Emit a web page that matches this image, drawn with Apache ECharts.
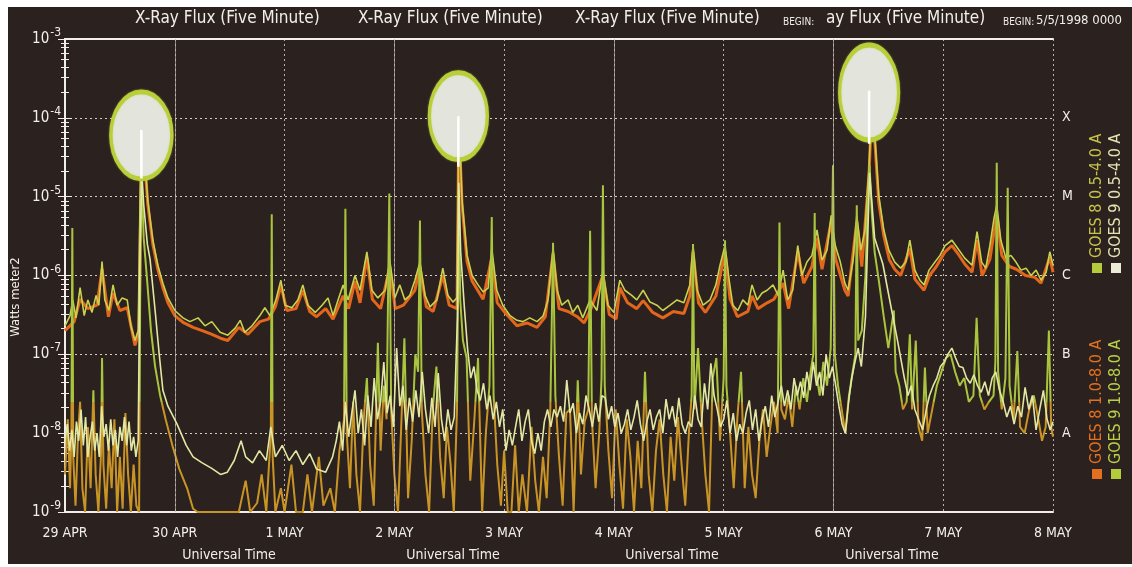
<!DOCTYPE html>
<html>
<head>
<meta charset="utf-8">
<script src="https://cdn.jsdelivr.net/npm/echarts@6/dist/echarts.min.js"></script>
<style>
  html, body { margin: 0; padding: 0; background: #fff; }
  #frame { position: absolute; left: 8px; top: 7px; width: 1124px; height: 557px; background: #2b211e; }
  #chart { position: absolute; left: 0; top: 0; width: 1132px; height: 567px; }
</style>
</head>
<body>
<div id="frame"></div>
<div id="chart"></div>
<script>
// hours since 29 Apr 1998 00:00 UT, flux in W m-2
const dayLabels = ['29 APR', '30 APR', '1 MAY', '2 MAY', '3 MAY', '4 MAY', '5 MAY', '6 MAY', '7 MAY', '8 MAY']
const classLabels = { '-4': 'X', '-5': 'M', '-6': 'C', '-7': 'B', '-8': 'A' }
const solidGridHours = [24, 72, 120, 168]

// GOES 8 1.0-8.0 A
const goes8Long = [[0,2e-7],[2,2.6e-7],[3.3,5e-7],[5,3.8e-7],[7,4.2e-7],[8.1,1.2e-6],[9.5,3e-7],[10.5,6e-7],[12,3.6e-7],[13.6,3.9e-7],[15.3,1.3e-7],[16.2,2e-7],[16.8,9e-5],[17.3,3.5e-5],[18.1,8e-6],[19.2,2.5e-6],[20.3,1.2e-6],[21.4,7e-7],[22.5,4.5e-7],[24,3.1e-7],[26,2.5e-7],[28,2.2e-7],[30,2e-7],[32,1.8e-7],[34,1.6e-7],[35.6,1.5e-7],[38,2.2e-7],[40,1.8e-7],[42.6,2.6e-7],[44.5,2.8e-7],[46,4e-7],[47.2,7.5e-7],[48.5,3.6e-7],[50.5,3.8e-7],[52,6.5e-7],[53.5,3.5e-7],[55,3e-7],[57,3.8e-7],[58.6,2.8e-7],[60.8,5.5e-7],[62,3.8e-7],[63.4,8.5e-7],[64.5,4.5e-7],[66,1.7e-6],[67.2,5e-7],[69,3.8e-7],[71,1.3e-6],[72.2,3.8e-7],[74,4.2e-7],[76.5,6.5e-7],[77.6,1.3e-6],[79,4e-7],[80.5,3.5e-7],[82.6,1e-6],[84,4.2e-7],[85.7,3.8e-7],[86.1,9e-5],[86.8,8e-6],[87.9,1.5e-6],[89,8.5e-7],[91.4,5e-7],[93.3,1.7e-6],[94.5,4.5e-7],[96,3.5e-7],[98.8,2.3e-7],[101,2.5e-7],[103.2,2.2e-7],[105,3e-7],[106.7,1.9e-6],[108,3.8e-7],[110,3.5e-7],[112,3e-7],[113.5,2.5e-7],[115,3.8e-7],[117.6,1e-6],[119,3.2e-7],[120.5,2.8e-7],[121.3,7e-7],[123,4.5e-7],[125,3.8e-7],[126.4,4.8e-7],[128.5,3.4e-7],[130.7,2.9e-7],[133,3.5e-7],[135.3,3.3e-7],[136.6,5.5e-7],[137.3,2e-6],[138.5,4.5e-7],[140,3.4e-7],[142.3,5.5e-7],[144.3,2e-6],[145.4,5e-7],[147,3e-7],[149.3,3.5e-7],[150.2,5.5e-7],[151.5,3.8e-7],[153.5,4.5e-7],[155,5e-7],[157,8e-7],[158.2,3.8e-7],[160.2,2e-6],[161.5,8e-7],[163.3,1.3e-6],[164.4,3e-6],[165.5,1.2e-6],[167.5,4.8e-6],[168.5,1.6e-6],[170.5,6.5e-7],[171.2,5.5e-7],[173.1,4.8e-6],[174.2,1.3e-6],[175.8,2e-5],[176.4,1.5e-4],[177.1,4.5e-5],[177.9,8.5e-6],[179,3.2e-6],[180.2,1.6e-6],[181.4,1.2e-6],[182.7,1e-6],[184.7,2.2e-6],[185.8,9e-7],[187.8,6.5e-7],[189,1e-6],[190.5,1.3e-6],[192.4,2e-6],[193.9,2.4e-6],[195.2,1.9e-6],[196.7,1.4e-6],[198.3,1.1e-6],[199.4,2.8e-6],[200.5,1e-6],[202.2,1.6e-6],[203.7,6e-6],[204.8,1.8e-6],[206.5,1.3e-6],[208,1.2e-6],[210,1e-6],[212,9.5e-7],[213.4,8e-7],[215.3,1.7e-6],[216,1.1e-6]]

// GOES 9 1.0-8.0 A
const goes9Long = [[0,2.3e-7],[1.1,3.1e-7],[1.7,4.9e-7],[2.4,2.9e-7],[3.3,7e-7],[4.2,3.1e-7],[5,4.9e-7],[5.9,3.4e-7],[6.8,5.6e-7],[7.4,4.2e-7],[8.1,1.5e-6],[8.7,4.9e-7],[9.6,3.6e-7],[10.5,7.6e-7],[11.4,4.2e-7],[12.5,5.2e-7],[13.6,4.9e-7],[14.4,2.3e-7],[15.3,1.5e-7],[16,2e-7],[16.4,9e-6],[16.8,1e-4],[17.3,3.9e-5],[18.1,9e-6],[19.2,2.8e-6],[20.3,1.35e-6],[21.4,8e-7],[22.5,5.2e-7],[24,3.6e-7],[25.8,2.9e-7],[27.3,2.6e-7],[29.1,2.9e-7],[30.6,2.3e-7],[32.1,2.6e-7],[33.9,1.9e-7],[35.6,1.75e-7],[37.2,2.15e-7],[38.3,2.7e-7],[39.3,1.9e-7],[40.9,2.3e-7],[42.6,3.1e-7],[43.7,3.9e-7],[44.8,3.1e-7],[46.1,4.9e-7],[47.2,8.7e-7],[48.1,4.2e-7],[49.6,3.9e-7],[50.9,4.9e-7],[52,7.6e-7],[53.1,4.2e-7],[54.7,3.4e-7],[56.2,4.2e-7],[57.5,5.2e-7],[58.6,3.1e-7],[59.7,4.9e-7],[60.8,7.6e-7],[61.9,4.9e-7],[63.4,1e-6],[64.5,6.5e-7],[66,2e-6],[67.1,6.5e-7],[68.4,5.2e-7],[70,6.5e-7],[71,1.57e-6],[72.1,5.2e-7],[73.2,7.6e-7],[74.3,4.9e-7],[75.4,5.6e-7],[76.5,8.7e-7],[77.6,1.48e-6],[78.7,5.6e-7],[79.8,4e-7],[81.3,4.9e-7],[82.6,1.24e-6],[83.7,5.6e-7],[84.8,4.6e-7],[85.7,5.2e-7],[86.1,1.1e-4],[86.8,9e-6],[87.9,1.8e-6],[89,1e-6],[90.3,7.6e-7],[91.4,6.2e-7],[92.5,6.9e-7],[93.3,2.2e-6],[94.4,6.5e-7],[95.7,4.2e-7],[97.3,3.1e-7],[98.8,2.7e-7],[100.1,2.6e-7],[101.6,2.9e-7],[103.2,2.6e-7],[104.5,3.05e-7],[105.6,4.9e-7],[106.7,2.2e-6],[107.6,6.5e-7],[108.6,4.2e-7],[110,4.9e-7],[111,3.4e-7],[112.1,4.2e-7],[113.2,2.9e-7],[114.8,4.9e-7],[116.3,3.6e-7],[117.6,1.17e-6],[118.7,4.2e-7],[120,3.4e-7],[121.3,8.7e-7],[122.4,6.5e-7],[123.9,5.6e-7],[125,4.9e-7],[126.4,6.5e-7],[127.9,4.6e-7],[129.4,4.2e-7],[130.7,3.6e-7],[132.3,4.2e-7],[133.8,4.9e-7],[135.3,4.5e-7],[136.6,7.6e-7],[137.3,2.4e-6],[138.2,6.5e-7],[139.5,4.2e-7],[141,4.9e-7],[142.3,7.6e-7],[143.2,1.35e-6],[144.3,2.4e-6],[145.2,8.7e-7],[146,4.2e-7],[147.1,3.6e-7],[148.2,4.9e-7],[149.3,4.2e-7],[150.2,7.6e-7],[151.3,4.9e-7],[152.4,6e-7],[153.5,6.5e-7],[154.8,7.6e-7],[155.9,5.6e-7],[157,1.17e-6],[158,4.9e-7],[159.1,6.5e-7],[160.2,2.4e-6],[161.1,1e-6],[162.2,1.48e-6],[163.3,1.8e-6],[164.4,3.8e-6],[165.5,1.57e-6],[166.6,2.1e-6],[167.5,5.8e-6],[168.4,2.4e-6],[169.5,1.48e-6],[170.5,8e-7],[171.2,6.5e-7],[172.3,1.57e-6],[173.1,5.8e-6],[174,2.1e-6],[174.9,3.8e-6],[175.8,2.5e-5],[176.4,1.68e-4],[177.1,5.2e-5],[177.9,1.05e-5],[179,3.8e-6],[180.1,2.1e-6],[181.4,1.48e-6],[182.7,1.24e-6],[183.8,1.48e-6],[184.7,2.8e-6],[185.8,1.17e-6],[186.9,8.7e-7],[187.8,7.6e-7],[188.9,1.17e-6],[190.2,1.48e-6],[191.3,1.8e-6],[192.4,2.4e-6],[193.9,2.8e-6],[195.2,2.2e-6],[196.7,1.66e-6],[198.3,1.35e-6],[199.4,3.6e-6],[200.4,1.48e-6],[201.3,1.24e-6],[202.2,2.4e-6],[203.1,5.3e-6],[203.7,7.8e-6],[204.6,2.8e-6],[205.7,1.66e-6],[206.8,1.8e-6],[207.9,1.48e-6],[209,1.17e-6],[210.1,1.24e-6],[211.2,1e-6],[212.3,1.17e-6],[213.4,8.7e-7],[214.5,1.1e-6],[215.3,2e-6],[216,1.35e-6]]

// GOES 8 0.5-4.0 A
const goes8Short = [[0,3e-9],[0.6,1.5e-8],[1.1,2e-9],[1.4,1e-8],[1.6,4e-6],[1.8,5e-9],[2.3,1.2e-9],[2.8,8e-9],[3.3,2.5e-8],[3.8,2e-9],[4.4,1e-9],[5,1.2e-8],[5.6,2e-9],[6.2,3.5e-8],[6.7,3e-9],[7.3,1e-9],[7.9,6e-9],[8.1,9e-8],[8.4,4e-9],[9,1.1e-9],[9.6,7e-9],[10.2,2e-9],[10.8,1.5e-8],[11.4,1e-9],[12,5e-9],[12.6,1.1e-9],[13.2,1.8e-8],[13.8,3e-9],[14.4,1e-9],[15,4e-9],[15.6,1.2e-9],[16.2,1e-9],[16.5,3e-6],[16.8,1.5e-5],[17.2,3e-6],[18,8e-7],[18.8,2e-7],[19.7,7e-8],[20.8,3e-8],[22,1.5e-8],[23.6,6.6e-9],[25,3.5e-9],[26.7,2e-9],[28,1.1e-9],[29,1e-9],[38,1e-9],[39.5,2.5e-9],[40.5,1e-9],[42,1.3e-9],[43,3e-9],[44,1e-9],[45,1e-8],[45.2,6e-6],[45.4,5e-9],[46,1e-9],[47.2,2e-9],[48,1e-9],[49.5,4e-9],[50.5,1e-9],[52,1e-9],[53,3e-9],[54,1e-9],[55.5,5e-9],[56.5,1.2e-9],[58,2e-9],[59,1e-9],[60,6e-9],[61,1.5e-8],[61.3,7e-6],[61.6,1e-8],[62.3,2e-9],[63,2.5e-8],[63.7,3e-9],[64.5,1e-9],[65.3,1.5e-8],[66,5e-8],[66.7,4e-9],[67.5,1.2e-9],[68.4,1.4e-7],[69,6e-9],[69.7,4e-8],[70.3,1.5e-8],[70.9,1.1e-5],[71.3,2e-8],[72,3e-9],[72.8,1e-9],[73.5,1.2e-8],[74.2,1.6e-7],[75,1.5e-9],[75.8,8e-9],[76.6,1e-7],[77.2,6e-8],[77.6,5e-6],[78,2e-8],[78.8,3e-9],[79.6,1e-9],[80.4,2e-8],[81.2,7e-8],[82,5e-9],[82.8,1.5e-9],[83.5,1.2e-8],[84.3,4e-9],[85,1e-9],[85.7,2e-8],[86,3e-6],[86.1,1.2e-5],[86.4,5e-7],[87,1.5e-7],[87.8,9e-8],[88.6,2.5e-9],[89.5,1.5e-8],[90.3,9e-8],[91.2,1e-9],[92,1e-8],[92.8,4e-8],[93.3,5.5e-6],[93.7,3e-8],[94.5,4e-9],[95.3,1.2e-9],[96,6e-9],[96.8,1e-9],[97.6,1e-9],[98.4,7e-9],[99.2,1e-9],[100,3e-9],[101,1e-9],[102,1.2e-8],[102.8,2.5e-9],[103.6,1e-9],[104.5,5e-9],[105.3,1.5e-9],[106.1,2e-8],[106.7,2.6e-6],[107.2,3e-8],[108,5e-9],[108.8,1.2e-9],[109.6,1.8e-8],[110.4,2e-8],[111.2,1e-9],[112.1,4.7e-8],[112.8,3e-9],[113.6,1.4e-8],[114.4,2e-8],[114.8,3.7e-6],[115.2,1.5e-8],[116,2e-9],[116.8,1e-8],[117.3,5e-8],[117.6,1.4e-5],[118,4e-8],[118.8,6e-9],[119.6,1.5e-9],[120.4,2e-8],[121.2,4e-9],[122,1.1e-9],[122.8,1.5e-8],[123.6,5e-9],[124.4,1e-9],[125.2,8e-9],[126,2e-9],[126.8,6e-8],[127.6,3e-9],[128.4,1e-9],[129.2,6e-9],[130,1.5e-8],[130.8,3e-9],[131.6,1e-9],[132.4,9e-9],[133.2,2.5e-9],[134,1.6e-8],[134.8,4e-9],[135.6,1.2e-9],[136.4,1e-8],[137,3e-8],[137.3,2.5e-6],[137.6,2e-8],[138.4,1.2e-7],[139.2,1.5e-8],[140,3e-9],[140.8,1e-9],[141.6,5e-8],[142.4,9e-8],[143.2,8e-9],[144,5e-8],[144.3,2.8e-6],[144.6,4e-8],[145.4,1e-8],[146.2,2e-9],[147,1.6e-8],[147.8,6e-8],[148.6,2e-9],[149.4,1.2e-8],[150.2,3e-9],[151,1.5e-9],[151.8,8e-9],[152.6,2e-8],[153.4,5e-9],[154.2,1.2e-8],[155,2.5e-8],[155.8,1e-8],[156.2,4.7e-6],[156.6,2e-8],[157.4,1.5e-8],[158.2,3e-8],[159,1.2e-8],[159.8,4e-8],[160.6,2e-8],[161.4,5e-8],[162.2,2.5e-8],[163,6e-8],[163.6,1e-7],[163.9,6.2e-6],[164.2,6e-8],[165,3e-8],[165.8,8e-8],[166.6,4e-8],[167.4,1.2e-7],[167.9,2.5e-5],[168.3,1e-7],[169,4e-8],[169.8,2e-8],[170.6,1e-8],[171.4,3e-8],[172.2,6e-8],[172.8,1e-7],[173.1,7.8e-6],[173.4,1.5e-7],[174.2,2e-7],[175,1e-6],[175.5,8e-6],[175.9,2.5e-5],[176.4,6e-6],[177,2e-6],[178,8e-7],[179,3e-7],[180,1.2e-7],[181.2,3.6e-7],[181.6,6e-8],[182.4,4e-8],[183.2,2e-8],[184,2.5e-8],[184.7,1.8e-7],[185.2,2e-8],[186,1.5e-7],[186.6,1.2e-8],[187.4,8e-9],[188,6.8e-8],[188.6,1e-8],[189.6,2e-8],[190.6,4e-8],[191.6,6e-8],[192.6,9e-8],[193.6,1e-7],[194.6,6e-8],[195.6,4e-8],[196.6,5e-8],[197.6,2.5e-8],[198.6,3e-8],[199.3,2.9e-7],[200,3e-8],[201,2e-8],[202,2.5e-8],[203,3e-8],[203.4,8e-8],[203.7,2.7e-5],[204,6e-8],[204.8,2e-8],[205.6,5e-8],[206.1,1.3e-5],[206.5,4e-8],[207.4,1.5e-8],[208.2,1.1e-7],[208.8,1.2e-8],[209.8,1e-8],[210.8,2e-8],[211.8,3e-8],[212.8,1.5e-8],[213.6,8e-9],[214.4,1.2e-8],[215.1,2e-7],[215.6,1.2e-8],[216,9e-9]]

// GOES 9 0.5-4.0 A
const goes9Short = [[0,8e-9],[0.5,1.3e-8],[1,6e-9],[1.5,1.1e-8],[2,5e-9],[2.5,1.4e-8],[3,8e-9],[3.5,2e-8],[4,7e-9],[4.5,1.6e-8],[5,5e-9],[5.5,9e-9],[6,1.4e-8],[6.5,6e-9],[7,1e-8],[7.5,5e-9],[8,2.2e-8],[8.5,9e-9],[9,1.3e-8],[9.5,6e-9],[10,1.5e-8],[10.5,7e-9],[11,1.1e-8],[11.5,5e-9],[12,1.2e-8],[12.5,8e-9],[13,1.6e-8],[13.5,7e-9],[14,1.4e-8],[14.5,6e-9],[15,9e-9],[15.5,5e-9],[16,8e-9],[16.4,2e-6],[16.8,2e-5],[17.2,8e-6],[18,2.5e-6],[18.6,1.6e-6],[19.7,3.6e-7],[20.6,1e-7],[21.4,3.5e-8],[22.5,2.2e-8],[24.5,1.3e-8],[26.5,7e-9],[28,5e-9],[30,4.2e-9],[32,3.6e-9],[34,3e-9],[35.5,3.2e-9],[37,4.5e-9],[38.5,8e-9],[39.5,5e-9],[41,4.2e-9],[42.5,6e-9],[44,4.5e-9],[45,1.2e-8],[46,5e-9],[47.5,7e-9],[49,4.5e-9],[50.5,6e-9],[52,4e-9],[53.5,5.5e-9],[55,3.5e-9],[57,3.2e-9],[58.5,5e-9],[59.3,8e-9],[60,1.4e-8],[60.7,6e-9],[61.3,2.5e-8],[62,9e-9],[62.7,1.8e-8],[63.4,3.5e-8],[64.1,1e-8],[64.8,2e-8],[65.5,7e-9],[66.2,3e-8],[66.9,1.2e-8],[67.6,5e-8],[68.3,1.5e-8],[69,2.5e-8],[69.7,8e-8],[70.4,1.8e-8],[71.1,3e-8],[71.8,1.2e-8],[72.5,1.2e-7],[73.2,2.2e-8],[73.9,4e-8],[74.6,1.1e-8],[75.3,2.8e-8],[76,1.4e-8],[76.7,3.5e-8],[77.4,1.6e-8],[78.1,6e-8],[78.8,2e-8],[79.5,1e-8],[80.2,2.8e-8],[80.9,1.2e-8],[81.6,5.8e-8],[82.3,1.5e-8],[83,8e-9],[83.7,2e-8],[84.4,1.1e-8],[85.1,1.6e-8],[85.8,3e-7],[86.1,1.5e-5],[86.5,2e-6],[87.3,4e-7],[88,1.2e-7],[88.7,5e-8],[89.4,7e-8],[90.1,3.5e-8],[90.8,2.6e-8],[91.5,4.3e-8],[92.2,2e-8],[92.9,3e-8],[93.6,1.5e-8],[94.3,2.5e-8],[95,1.2e-8],[95.7,2e-8],[96.4,6e-9],[97.1,1.1e-8],[97.8,7e-9],[98.5,1.2e-8],[99.2,2e-8],[99.9,8e-9],[100.6,1.4e-8],[101.3,2e-8],[102,8e-9],[102.7,5.5e-9],[103.4,1e-8],[104.1,6e-9],[104.8,1.4e-8],[105.5,2e-8],[106.2,1.2e-8],[106.9,2e-8],[107.6,1.6e-8],[108.3,2.2e-8],[109,1.4e-8],[109.7,4.7e-8],[110.4,1.8e-8],[111.1,2.4e-8],[111.8,1e-8],[112.5,1.8e-8],[113.2,1.3e-8],[113.9,3e-8],[114.6,2e-8],[115.3,1.2e-8],[116,2.4e-8],[116.7,1.4e-8],[117.4,3e-8],[118.1,2.8e-8],[118.8,1.5e-8],[119.5,2.2e-8],[120.2,1.2e-8],[120.9,1.8e-8],[121.6,1e-8],[122.3,1.3e-8],[123,2e-8],[123.7,1.1e-8],[124.4,1.6e-8],[125.1,2.6e-8],[125.8,1.3e-8],[126.5,8e-9],[127.2,1.4e-8],[127.9,2e-8],[128.6,1.1e-8],[129.3,1.6e-8],[130,2e-8],[130.7,1e-8],[131.4,2.7e-8],[132.1,1.5e-8],[132.8,2.2e-8],[133.5,1.2e-8],[134.2,2.8e-8],[134.9,1.3e-8],[135.6,1e-8],[136.3,1.4e-8],[137,1.2e-8],[137.7,3e-8],[138.4,1.5e-8],[139.1,1.2e-8],[139.8,4.3e-8],[140.5,2e-8],[141.2,7.7e-8],[141.9,3e-8],[142.6,2e-8],[143.3,1.2e-8],[144,1.5e-8],[144.7,2.6e-8],[145.4,1e-8],[146.1,1.8e-8],[146.8,8e-9],[147.5,1.3e-8],[148.2,1e-8],[148.9,1.8e-8],[149.6,2.6e-8],[150.3,1.1e-8],[151,2e-8],[151.7,8e-9],[152.4,1.5e-8],[153.1,2.2e-8],[153.8,1.2e-8],[154.5,3e-8],[155.2,1.6e-8],[155.9,2.5e-8],[156.6,4e-8],[157.3,2.2e-8],[158,3.5e-8],[158.7,2e-8],[159.4,5e-8],[160.1,3e-8],[160.8,4.5e-8],[161.5,2.8e-8],[162.2,6e-8],[162.9,3.5e-8],[163.6,8e-8],[164.3,4e-8],[165,6e-8],[165.7,3e-8],[166.4,1e-7],[167.1,5e-8],[167.8,7e-8],[168.5,4e-8],[169.2,2.2e-8],[169.9,1.3e-8],[170.6,1e-8],[171.3,2.5e-8],[172,5e-8],[172.7,8e-8],[173.4,1.2e-7],[174.1,7e-8],[175,3e-7],[175.9,2e-5],[176.3,1e-5],[177,3e-6],[178.8,1.4e-6],[180,6e-7],[181,3e-7],[182,1.5e-7],[182.7,9e-8],[183.5,5e-8],[184.3,3e-8],[185,4e-8],[185.8,2e-8],[186.6,1.5e-8],[187.5,1.1e-8],[188.3,2e-8],[189,3e-8],[189.8,4e-8],[190.6,5e-8],[191.4,7e-8],[192.2,8e-8],[193,1e-7],[193.9,1.2e-7],[194.7,9e-8],[195.5,7e-8],[196.3,6.8e-8],[197.1,5e-8],[197.9,4.3e-8],[198.7,5.5e-8],[199.5,4e-8],[200.3,3.3e-8],[201.1,4.5e-8],[201.9,3e-8],[202.7,5e-8],[203.5,6e-8],[204.3,3.5e-8],[205.1,2.5e-8],[205.9,1.6e-8],[206.7,2.2e-8],[207.5,1.3e-8],[208.3,2.2e-8],[209.1,1.6e-8],[209.9,3.8e-8],[210.7,2e-8],[211.5,3e-8],[212.3,1.1e-8],[213.1,2e-8],[213.9,3.5e-8],[214.7,1.5e-8],[215.4,1.1e-8],[216,1.4e-8]]

// circled flares
const flareHours = [16.7, 86.0, 175.8]
const ringCenters = [6e-5, 1.05e-4, 2.1e-4]
const peakTops = [7e-5, 1.05e-4, 2.2e-4]
const peakBottoms = [1.7e-5, 2.4e-5, 4.7e-5]
const ringSizes = [[61, 87], [58, 87], [59, 95]]

const FONT = "'DejaVu Sans Condensed','Liberation Sans Narrow','Roboto Condensed','DejaVu Sans',sans-serif"
const WHITE = '#f2efe9'

function decadeLabel(value) {
  const exp = Math.round(Math.log10(value))
  return `{b|10}{e|${exp}}`
}

function classLabel(value) {
  const exp = Math.round(Math.log10(value))
  return classLabels[String(exp)] || ''
}

function titleText(x, text, size = 17) {
  return { type: 'text', left: x, top: 10, style: { text, fill: WHITE, font: `${size}px ${FONT}` } }
}

function utText(cx) {
  return { type: 'text', x: cx, y: 555, style: { text: 'Universal Time', fill: WHITE, font: `14px ${FONT}`, align: 'center', verticalAlign: 'middle' } }
}

function legendEntry(x, y, color, textColor, text) {
  return [
    { type: 'rect', shape: { x: x - 5, y: y - 5, width: 10, height: 10 }, style: { fill: color } },
    { type: 'text', x, y: y - 10, rotation: Math.PI / 2,
      style: { text, fill: textColor, font: `16px ${FONT}`, align: 'left', verticalAlign: 'middle' } },
  ]
}

// vertical peak strokes inside the rings, split by null gaps
const peakStrokes = flareHours.flatMap((h, i) => [[h, peakTops[i]], [h, peakBottoms[i]], [h, null]])

const chart = echarts.init(document.getElementById('chart'), null, { renderer: 'canvas' })

const logAxisBase = {
  type: 'log',
  logBase: 10,
  min: 1e-9,
  max: 1e-3,
  splitNumber: 6,
}

const lowColors = { low: '#c99426', high: '#a9c43e' }

chart.setOption({
  animation: false,
  backgroundColor: 'transparent',
  grid: { left: 65, right: 79, top: 39, bottom: 55 },
  xAxis: [
    {
      type: 'value',
      min: 0,
      max: 216,
      interval: 24,
      axisLine: { lineStyle: { color: WHITE, width: 2 } },
      axisTick: { show: false },
      axisLabel: {
        color: WHITE,
        fontFamily: FONT,
        fontSize: 14,
        margin: 14,
        formatter: v => dayLabels[Math.round(v / 24)] || '',
      },
      splitLine: { show: true, lineStyle: { color: '#ddd6cc', type: [2, 3], width: 1, opacity: 0.8 } },
    },
    {
      type: 'value',
      position: 'top',
      min: 0,
      max: 216,
      interval: 24,
      axisLine: { lineStyle: { color: WHITE, width: 2 } },
      axisTick: { show: false },
      axisLabel: { show: false },
      splitLine: { show: false },
    },
  ],
  yAxis: [
    {
      ...logAxisBase,
      position: 'left',
      axisLine: { show: true, lineStyle: { color: WHITE, width: 2 } },
      axisTick: { show: true, inside: true, length: 7, lineStyle: { color: WHITE } },
      minorTick: { show: true, splitNumber: 8, length: 4, lineStyle: { color: WHITE } },
      axisLabel: {
        margin: 4,
        formatter: decadeLabel,
        rich: {
          b: { color: WHITE, fontFamily: FONT, fontSize: 15 },
          e: { color: WHITE, fontFamily: FONT, fontSize: 12, padding: [0, 0, 12, 1] },
        },
      },
      splitLine: { show: true, lineStyle: { color: '#e6e0d6', type: [2, 3], width: 1.2, opacity: 0.9 } },
    },
    {
      ...logAxisBase,
      position: 'right',
      axisLine: { show: true, lineStyle: { color: WHITE, width: 2 } },
      axisTick: { show: true, inside: true, length: 7, lineStyle: { color: WHITE } },
      minorTick: { show: true, splitNumber: 8, length: 4, lineStyle: { color: WHITE } },
      axisLabel: { color: WHITE, fontFamily: FONT, fontSize: 14, margin: 9, formatter: classLabel },
      splitLine: { show: false },
    },
  ],
  visualMap: [{
    type: 'piecewise',
    show: false,
    seriesIndex: 2,
    dimension: 1,
    pieces: [
      { min: 1e-10, max: 2.5e-8, color: lowColors.low },
      { min: 2.5e-8, max: 1e-2, color: lowColors.high },
    ],
  }],
  series: [
    {
      name: 'GOES 8 1.0-8.0 A',
      type: 'line',
      data: goes8Long,
      showSymbol: false,
      z: 2,
      lineStyle: { color: '#e2661c', width: 3 },
      markLine: {
        silent: true,
        symbol: 'none',
        label: { show: false },
        lineStyle: { color: '#bdb4aa', type: 'solid', width: 1, opacity: 0.7 },
        data: solidGridHours.map(h => ({ xAxis: h })),
      },
    },
    {
      name: 'GOES 9 1.0-8.0 A',
      type: 'line',
      data: goes9Long,
      showSymbol: false,
      z: 3,
      lineStyle: { color: '#c9d24e', width: 1.6 },
    },
    {
      name: 'GOES 8 0.5-4.0 A',
      type: 'line',
      data: goes8Short,
      showSymbol: false,
      z: 4,
      lineStyle: { width: 2 },
    },
    {
      name: 'GOES 9 0.5-4.0 A',
      type: 'line',
      data: goes9Short,
      showSymbol: false,
      z: 5,
      lineStyle: { color: '#e2e8a4', width: 1.6 },
    },
    {
      name: 'flares',
      type: 'scatter',
      z: 8,
      silent: true,
      symbol: 'circle',
      data: flareHours.map((h, i) => ({ value: [h, ringCenters[i]], symbolSize: ringSizes[i] })),
      itemStyle: {
        color: '#e3e5dd',
        borderColor: '#b9cf3a',
        borderWidth: 4,
        shadowColor: 'rgba(190,210,80,0.6)',
        shadowBlur: 2,
        opacity: 1,
      },
    },
    {
      name: 'flare peaks',
      type: 'line',
      data: peakStrokes,
      z: 9,
      silent: true,
      showSymbol: false,
      connectNulls: false,
      lineStyle: { color: '#ffffff', width: 2.5 },
    },
  ],
  graphic: [
    titleText(135, 'X-Ray Flux (Five Minute)'),
    titleText(358, 'X-Ray Flux (Five Minute)'),
    titleText(575, 'X-Ray Flux (Five Minute)'),
    { type: 'text', left: 783, top: 17, style: { text: 'BEGIN:', fill: WHITE, font: `10px ${FONT}` } },
    titleText(826, 'ay Flux (Five Minute)'),
    { type: 'text', left: 1003, top: 17, style: { text: 'BEGIN:', fill: WHITE, font: `10px ${FONT}` } },
    { type: 'text', left: 1036, top: 14, style: { text: '5/5/1998 0000', fill: WHITE, font: `13px ${FONT}` } },
    utText(229), utText(453), utText(672), utText(892),
    { type: 'text', x: 16, y: 297, rotation: Math.PI / 2,
      style: { text: 'Watts meter2', fill: WHITE, font: `13px ${FONT}`, align: 'center', verticalAlign: 'middle' } },
    ...legendEntry(1097, 474, '#e2701e', '#e2701e', 'GOES 8 1.0-8.0 A'),
    ...legendEntry(1097, 268, '#b4cc3c', '#c7c24a', 'GOES 8 0.5-4.0 A'),
    ...legendEntry(1116, 474, '#b4cc3c', '#b9cf48', 'GOES 9 1.0-8.0 A'),
    ...legendEntry(1116, 268, '#ecebd6', '#e4e2b0', 'GOES 9 0.5-4.0 A'),
  ],
})
</script>
</body>
</html>
